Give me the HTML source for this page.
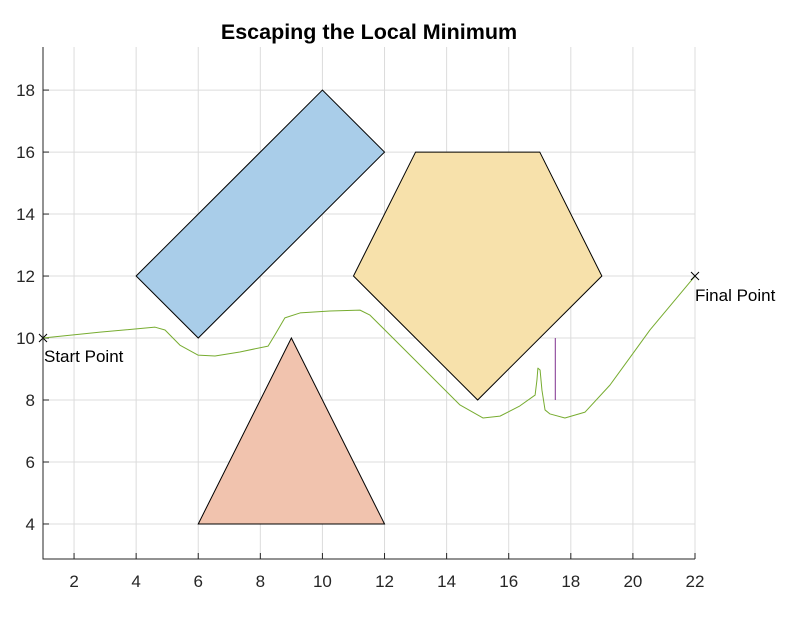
<!DOCTYPE html>
<html><head><meta charset="utf-8"><style>
body{margin:0;background:#fff;}
svg{font-family:"Liberation Sans",Arial,sans-serif;}
</style></head><body>
<svg id="c" width="803" height="630"></svg>
<script>
const xTicks=[2,4,6,8,10,12,14,16,18,20,22];
const yTicks=[4,6,8,10,12,14,16,18];
const rectX=[4,10,12,6], rectY=[12,18,16,10];
const pentX=[13,17,19,15,11], pentY=[16,16,12,8,12];
const triX=[6,12,9], triY=[4,4,10];
const pathX=[1,2.84,4.61,4.93,5.41,5.99,6.54,7.34,8.25,8.47,8.79,9.28,10.24,11.21,11.53,12.5,13.46,14.43,15.17,15.72,16.36,16.85,16.91,16.94,17.01,17.07,17.17,17.33,17.81,18.46,19.26,20.55,22];
const pathY=[10,10.19,10.35,10.26,9.77,9.45,9.42,9.55,9.74,10.1,10.65,10.81,10.87,10.9,10.74,9.77,8.81,7.84,7.42,7.48,7.81,8.16,8.65,9.03,8.97,8.32,7.68,7.55,7.42,7.61,8.48,10.26,12];
const markX=[17.5,17.5], markY=[8,10];
const startPt=[1,10], endPt=[22,12];
const X0=1,X1=22,Y0=2.87,Y1=19.39,L=43,R=695,B=559,T=47;
const sx=v=>L+(v-X0)/(X1-X0)*(R-L), sy=v=>B-(v-Y0)/(Y1-Y0)*(B-T);
const svg=document.getElementById('c'), NS='http://www.w3.org/2000/svg';
function mk(t,a,p){const e=document.createElementNS(NS,t);for(const k in a)e.setAttribute(k,a[k]);(p||svg).appendChild(e);return e;}
let e;
e=mk('rect',{x:L,y:T,width:R-L,height:B-T,fill:'#fff'});


xTicks.forEach(v=>{e=mk('line',{x1:sx(v),x2:sx(v),y1:T,y2:B,stroke:'#dcdcdc'});


e=mk('line',{x1:sx(v),x2:sx(v),y1:B,y2:B-6,stroke:'#262626'});
e=mk('text',{x:sx(v),y:B+28,'text-anchor':'middle','font-size':17,fill:'#262626'});e.textContent=v;

});
yTicks.forEach(v=>{e=mk('line',{x1:L,x2:R,y1:sy(v),y2:sy(v),stroke:'#dcdcdc'});


mk('line',{x1:L,x2:L+6,y1:sy(v),y2:sy(v),stroke:'#262626'});
e=mk('text',{x:L-8,y:sy(v)+6,'text-anchor':'end','font-size':17,fill:'#262626'});e.textContent=v;

});
function poly(xs,ys,fill,name){e=mk('polygon',{points:xs.map((x,i)=>sx(x)+','+sy(ys[i])).join(' '),fill:fill,stroke:'#000','stroke-width':1});

}
poly(rectX,rectY,'#a9cde9','obstacle-rectangle');
poly(pentX,pentY,'#f7e1ab','obstacle-pentagon');
poly(triX,triY,'#f1c3ae','obstacle-triangle');
e=mk('polyline',{points:pathX.map((x,i)=>sx(x)+','+sy(pathY[i])).join(' '),fill:'none',stroke:'#77ac30','stroke-width':1,'stroke-linejoin':'round'});


e=mk('line',{x1:sx(markX[0]),x2:sx(markX[1]),y1:sy(markY[0]),y2:sy(markY[1]),stroke:'#7e2f8e','stroke-width':1});


function cross(p,name){const x=sx(p[0]),y=sy(p[1]);e=mk('path',{d:`M${x-4},${y-4}L${x+4},${y+4}M${x-4},${y+4}L${x+4},${y-4}`,stroke:'#000'});

}
cross(startPt,'start-marker');cross(endPt,'final-marker');
e=mk('text',{x:sx(startPt[0])+1,y:sy(startPt[1])+24,'font-size':17,fill:'#000'});e.textContent='Start Point';


e=mk('text',{x:sx(endPt[0]),y:sy(endPt[1])+25,'font-size':17,fill:'#000'});e.textContent='Final Point';


e=mk('path',{d:`M${L},${T}V${B}H${R}`,fill:'none',stroke:'#262626'});


e=mk('text',{x:369,y:39,'text-anchor':'middle','font-size':21.5,'font-weight':'bold',fill:'#000'});e.textContent='Escaping the Local Minimum';


</script>
</body></html>
